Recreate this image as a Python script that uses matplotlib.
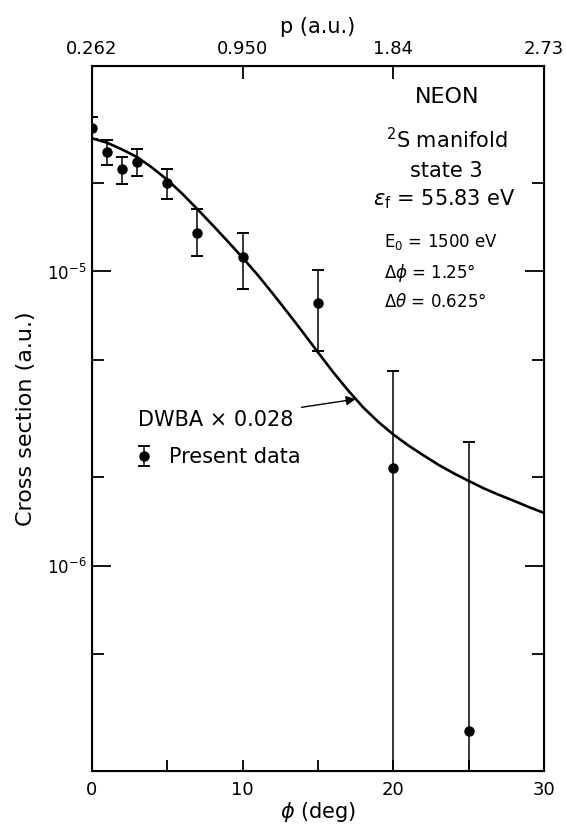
import numpy as np
import matplotlib
matplotlib.use('Agg')
import matplotlib.pyplot as plt
from matplotlib.ticker import FixedLocator, NullFormatter

plt.rcParams['font.family'] = ['DejaVu Sans']
plt.rcParams['mathtext.fontset'] = 'dejavusans'

# measured points (phi in deg, cross section in a.u.)
phi = [0, 1, 2, 3, 5, 7, 10, 15, 20, 25]
cs = [3.07e-5, 2.55e-5, 2.24e-5, 2.36e-5, 2.00e-5, 1.355e-5, 1.117e-5, 7.8e-6, 2.15e-6, 2.73e-7]
cs_hi = [3.35e-5, 2.80e-5, 2.45e-5, 2.62e-5, 2.24e-5, 1.63e-5, 1.355e-5, 1.01e-5, 4.6e-6, 2.64e-6]
cs_lo = [2.82e-5, 2.30e-5, 1.99e-5, 2.11e-5, 1.77e-5, 1.13e-5, 8.7e-6, 5.38e-6, 1e-8, 1e-8]

# DWBA x 0.028 curve
phi_th = [0, 1, 2, 3, 4, 5, 6, 7, 8, 9, 10, 11, 12, 13, 14, 15, 16, 17, 18, 19, 20,
          21, 22, 23, 24, 25, 26, 27, 28, 29, 30]
cs_th = [2.838e-5, 2.742e-5, 2.600e-5, 2.449e-5, 2.254e-5, 2.051e-5, 1.837e-5, 1.629e-5,
         1.439e-5, 1.268e-5, 1.114e-5, 9.73e-6, 8.41e-6, 7.24e-6, 6.21e-6, 5.31e-6,
         4.55e-6, 3.94e-6, 3.45e-6, 3.08e-6, 2.79e-6, 2.56e-6, 2.37e-6, 2.20e-6, 2.06e-6,
         1.94e-6, 1.83e-6, 1.74e-6, 1.66e-6, 1.58e-6, 1.51e-6]

top_ticks = [0, 10, 20, 30]
top_labels = ['0.262', '0.950', '1.84', '2.73']

cs = np.array(cs)
yerr = [cs - np.array(cs_lo), np.array(cs_hi) - cs]

fig = plt.figure(figsize=(5.66, 8.27), dpi=100)
ax = fig.add_axes([0.1625, 0.0677, 0.7986, 0.8525])

ax.plot(phi_th, cs_th, '-k', lw=1.9, solid_joinstyle='round')
eb = ax.errorbar(phi, cs, yerr=yerr, fmt='o', color='k', ms=6.5, elinewidth=1.1,
                 capsize=4.5, capthick=1.4, label='Present data')

ax.set_yscale('log')
ax.set_xlim(0, 30)
ax.set_ylim(2e-7, 5e-5)

ax.yaxis.set_major_locator(FixedLocator([1e-6, 1e-5]))
ax.yaxis.set_minor_locator(FixedLocator([5e-7, 2e-6, 5e-6, 2e-5]))
ax.yaxis.set_minor_formatter(NullFormatter())
ax.set_xticks([0, 10, 20, 30])
ax.set_xticks([5, 15, 25], minor=True)

ax.tick_params(axis='y', which='major', direction='in', length=14, width=1.3,
               left=True, right=True, labelsize=12, pad=4)
ax.tick_params(axis='y', which='minor', direction='in', length=8.5, width=1.3,
               left=True, right=True)
ax.tick_params(axis='x', which='both', direction='in', length=8, width=1.3,
               top=False, labelsize=13, pad=7)
for s in ax.spines.values():
    s.set_linewidth(1.5)

ax2 = ax.twiny()
ax2.set_xlim(0, 30)
ax2.set_xticks(top_ticks)
ax2.set_xticklabels(top_labels)
ax2.tick_params(axis='x', direction='in', length=9.5, width=1.3, labelsize=13, pad=6)
ax2.set_xlabel('p (a.u.)', fontsize=15, labelpad=5)

ax.set_xlabel(r'$\phi$ (deg)', fontsize=15, labelpad=1)
ax.set_ylabel('Cross section (a.u.)', fontsize=16, labelpad=8)

# annotations
tr = ax.transAxes
ax.text(0.785, 0.956, 'NEON', transform=tr, ha='center', va='center', fontsize=16)
ax.text(0.785, 0.895, r'$^2$S manifold', transform=tr, ha='center', va='center', fontsize=15)
ax.text(0.785, 0.851, 'state 3', transform=tr, ha='center', va='center', fontsize=15)
ax.text(0.780, 0.811, r'$\varepsilon_{\rm f}$ = 55.83 eV', transform=tr, ha='center', va='center', fontsize=15)
ax.text(0.645, 0.750, r'E$_0$ = 1500 eV', transform=tr, ha='left', va='center', fontsize=12)
ax.text(0.645, 0.706, r'$\Delta\phi$ = 1.25°', transform=tr, ha='left', va='center', fontsize=12)
ax.text(0.645, 0.665, r'$\Delta\theta$ = 0.625°', transform=tr, ha='left', va='center', fontsize=12)

ax.annotate('DWBA × 0.028', xy=(17.5, 3.68e-6), xytext=(3.05, 3.12e-6),
            ha='left', va='center', fontsize=15,
            arrowprops=dict(arrowstyle='-|>', color='k', lw=1.0, mutation_scale=14,
                            shrinkA=4, shrinkB=0))

ax.legend(handles=[eb], loc='center left', bbox_to_anchor=(0.097, 0.445),
          frameon=False, fontsize=15, handlelength=0.8, handletextpad=0.8,
          borderpad=0, borderaxespad=0)

fig.savefig('out.png', dpi=100)
